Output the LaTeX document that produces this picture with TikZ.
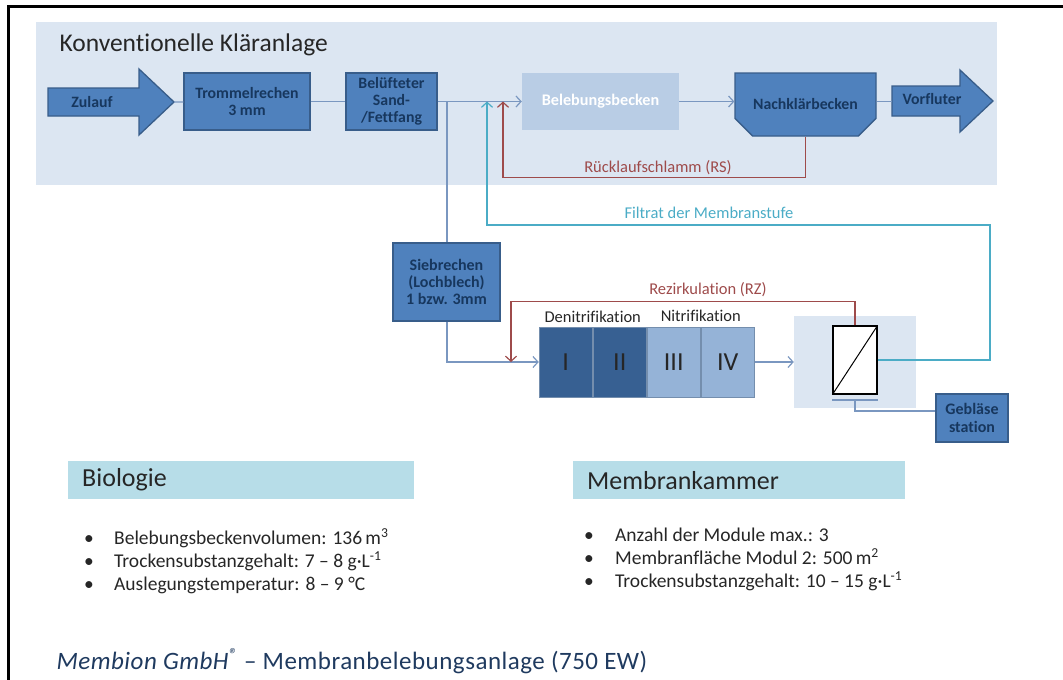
\documentclass[tikz,border=0pt]{standalone}
\usepackage{fontspec}
\setmainfont{Carlito}[Ligatures=NoCommon]
\usetikzlibrary{arrows.meta,positioning,shapes.misc}
\definecolor{kabg}{HTML}{DCE6F2}
\definecolor{kablue}{HTML}{4F81BD}
\definecolor{kaedge}{HTML}{385D8A}
\definecolor{kanavy}{HTML}{17375E}
\definecolor{kabeleb}{HTML}{B9CDE5}
\definecolor{kadark}{HTML}{376092}
\definecolor{kalight}{HTML}{95B3D7}
\definecolor{kared}{HTML}{9E4B4B}
\definecolor{kacyan}{HTML}{4BACC6}
\definecolor{kagrey}{HTML}{7A97C0}
\definecolor{kahead}{HTML}{B7DDE8}
\definecolor{katext}{HTML}{262626}
\definecolor{kafoot}{HTML}{1F3A5F}

\begin{document}
\begin{tikzpicture}[x=1pt,y=-1pt,
  procbox/.style={draw=kaedge, fill=kablue, line width=1.3pt, text=kanavy,
    font=\fontsize{15.8}{17}\selectfont\bfseries, align=center, inner sep=0pt},
  bigarrow/.style={draw=kaedge, fill=kablue, line width=1.3pt},
  cell/.style={draw=kaedge!70, line width=0.5pt, minimum width=53.5pt,
    minimum height=70pt, inner sep=0pt, text=katext,
    font=\fontsize{26}{28}\selectfont},
  flowlbl/.style={font=\fontsize{16.5}{18}\selectfont, inner sep=1pt},
  header/.style={fill=kahead, anchor=north west, minimum height=38pt,
    text=katext, font=\fontsize{26}{28}\selectfont, align=left, inner xsep=14pt},
  bullets/.style={anchor=north west, text=katext, align=left,
    font=\fontsize{19.5}{23}\selectfont, inner sep=0pt},
  flow/.style={kagrey, line width=1.2pt},
  arr/.style={-{Straight Barb[length=5pt,width=11pt]}}]
\useasboundingbox (0,0) rectangle (1063,680);
% frame and backdrop
\draw[line width=3pt] (8,680) -- (8,6) -- (1063,6);
\fill[kabg] (36,22) rectangle (997,185);
\node[anchor=west, text=katext, font=\fontsize{25.5}{28}\selectfont] (title) at (56,45) {Konventionelle Kläranlage};
% Nodes
\draw[bigarrow] (48,88) -- (139,88) -- (139,69) -- (174,102) -- (139,135) -- (139,116) -- (48,116) -- cycle;
\node[text=kanavy, font=\fontsize{15.8}{17}\selectfont\bfseries] (zulauf) at (92,102) {Zulauf};
\coordinate (zulauftip) at (174,102);
\node[procbox, minimum width=126pt, minimum height=57pt] (trommel) at (247,101.5) {Trommelrechen\\3 mm};
\node[procbox, minimum width=91pt, minimum height=57pt] (sandfang) at (391.5,101.5) {Belüfteter\\Sand-\\/Fettfang};
\node[fill=kabeleb, minimum width=157pt, minimum height=57pt, text=white,
  font=\fontsize{16.2}{17}\selectfont\bfseries] (beleb) at (600.5,101.5) {Belebungsbecken};
\node[procbox, chamfered rectangle, chamfered rectangle corners={south east,south west},
  chamfered rectangle xsep=12pt, chamfered rectangle ysep=12pt,
  minimum width=141pt, minimum height=63pt] (nachkl) at (805.5,104.5) {Nachklärbecken};
\draw[bigarrow] (892,86) -- (960,86) -- (960,70) -- (993,101) -- (960,132) -- (960,116) -- (892,116) -- cycle;
\node[text=kanavy, font=\fontsize{15.8}{17}\selectfont\bfseries] (vorfluter) at (932,99) {Vorfluter};
\coordinate (vorfluterin) at (892,101.5);
\coordinate (split) at (447,101.5);
\coordinate (filin) at (487,101.5);
\coordinate (rsin) at (503,101.5);
\node[procbox, minimum width=107pt, minimum height=78pt, font=\fontsize{16}{17}\selectfont\bfseries] (sieb) at (446.5,282) {Siebrechen\\(Lochblech)\\1 bzw. 3mm};
% cascade
\node[cell, fill=kadark] (c1) at (565.75,362) {I};
\node[cell, fill=kadark, right=0pt of c1] (c2) {II};
\node[cell, fill=kalight, right=0pt of c2] (c3) {III};
\node[cell, fill=kalight, right=0pt of c3] (c4) {IV};
\node[flowlbl, text=katext, above=3pt of c1.north east] (denitri) {Denitrifikation};
\node[flowlbl, text=katext, above=4pt of c4.north west] (nitri) {Nitrifikation};
\coordinate (rzin) at (511,362);
% membrane chamber
\node[fill=kabg, minimum width=122pt, minimum height=92pt] (membg) at (855,362) {};
\node[draw=black, fill=white, line width=1.3pt, minimum width=44pt, minimum height=68pt] (memb) at (855,360) {};
\draw[black, line width=1pt] (memb.south west) -- (memb.north east);
\draw[kagrey, line width=1.8pt] ([yshift=-5pt]memb.south west) -- ([yshift=-5pt]memb.south east);
\coordinate (luft) at ([yshift=-5pt]memb.south);
\node[procbox, minimum width=72pt, minimum height=48pt, font=\fontsize{16}{18}\selectfont\bfseries] (geblaese) at (972,418) {Gebläse\\station};
% Arrows
\draw[flow] (zulauftip) -- (trommel);
\draw[flow] (trommel) -- (sandfang);
\draw[flow, arr] (sandfang) -- (beleb);
\draw[flow, arr] (beleb) -- (nachkl.west |- beleb);
\draw[flow] (nachkl.east |- vorfluterin) -- (vorfluterin);
\draw[flow] (split) -- (sieb.north -| split);
\draw[flow, arr] (sieb.south -| split) |- (c1.west);
\draw[flow, arr] (c4) -- (membg);
\draw[flow] (luft) |- ([yshift=7pt]geblaese.west);
\draw[kared, line width=1.2pt, arr] (nachkl.south) -- ++(0,41) -| (rsin);
\node[flowlbl, text=kared] (rslbl) at (658,168) {Rücklaufschlamm (RS)};
\draw[kacyan, line width=1.2pt, arr] (memb.east) -| (990,225) -| (filin);
\node[flowlbl, text=kacyan] (filtlbl) at (709,213) {Filtrat der Membranstufe};
\draw[kared, line width=1.2pt, arr] (memb.north) -- ++(0,-24) -| (rzin);
\node[flowlbl, text=kared] (rzlbl) at (708,290) {Rezirkulation (RZ)};
% info panels
\node[header, text width=318pt] (bioheader) at (68,461) {Biologie};
\node[bullets] (biolist) at (84,528) {\makebox[30pt][l]{•}Belebungsbeckenvolumen: 136\,m\textsuperscript{3}\\
  \makebox[30pt][l]{•}Trockensubstanzgehalt: 7 – 8 g·L\textsuperscript{-1}\\
  \makebox[30pt][l]{•}Auslegungstemperatur: 8 – 9 °C};
\node[header, text width=304pt] (memheader) at (573,461) {Membrankammer};
\node[bullets] (memlist) at (584,528) {\makebox[31pt][l]{•}Anzahl der Module max.: 3\\
  \makebox[31pt][l]{•}Membranfläche Modul 2: 500\,m\textsuperscript{2}\\
  \makebox[31pt][l]{•}Trockensubstanzgehalt: 10 – 15 g·L\textsuperscript{-1}};
\node[anchor=west, text=kafoot, font=\fontsize{25}{27}\selectfont\addfontfeatures{LetterSpace=2}] (footer) at (53,661) {\textit{Membion GmbH\textsuperscript{®}} – Membranbelebungsanlage (750 EW)};
\end{tikzpicture}
\end{document}
